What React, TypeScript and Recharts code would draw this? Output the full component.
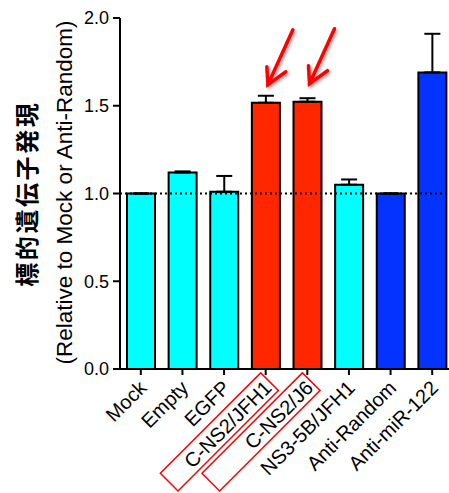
import React from "react";
import {
  BarChart,
  Bar,
  XAxis,
  YAxis,
  ReferenceLine,
  ErrorBar,
  Cell,
  LabelList,
} from "recharts";

const categories = [
  "Mock",
  "Empty",
  "EGFP",
  "C-NS2/JFH1",
  "C-NS2/J6",
  "NS3-5B/JFH1",
  "Anti-Random",
  "Anti-miR-122",
];
const means = [1.0, 1.12, 1.01, 1.517, 1.523, 1.05, 1.0, 1.69];
const upperErrors = [0, 0.006, 0.09, 0.04, 0.02, 0.03, 0, 0.22];
const groups = ["control", "control", "control", "chimera", "chimera", "control", "anti", "anti"];
const highlighted = ["C-NS2/JFH1", "C-NS2/J6"];
const yTicks = [0, 0.5, 1, 1.5, 2];
const yTitle = "標的遺伝子発現";
const ySubtitle = "(Relative to Mock or Anti-Random)";

const groupColors: Record<string, string> = {
  control: "#00FFFF",
  chimera: "#FF2600",
  anti: "#0433FF",
};

const FONT = "'Liberation Sans', Arial, Helvetica, sans-serif";
const CJK = "'Noto Sans CJK JP', 'Noto Sans CJK SC', sans-serif";

const data = categories.map((name, i) => ({
  name,
  value: means[i],
  err: [0, upperErrors[i]],
  group: groups[i],
}));

function CategoryTick({ x, y, payload }: any) {
  const boxed = highlighted.includes(payload.value);
  return (
    <g transform={`translate(${x},${y}) rotate(-45)`}>
      {boxed && (
        <rect x={-144} y={-5} width={142} height={25} fill="none" stroke="#ff0000" strokeWidth={1.5} />
      )}
      <text x={-5} y={15} textAnchor="end" fontSize={20} fontFamily={FONT} fill="#000">
        {payload.value}
      </text>
    </g>
  );
}

// red arrows pointing at the chimera bars
function ArrowMark(props: any) {
  const { x, y, width, value, index } = props;
  if (!highlighted.includes(value)) return null;
  const tipX = x + width / 2 + 2;
  const tipY = y - 18;
  const tailX = tipX + 25;
  const tailY = tipY - 55;
  const fid = `arrowShadow${index}`;
  return (
    <g>
      <defs>
        <filter id={fid} x="-50%" y="-50%" width="200%" height="200%">
          <feDropShadow dx={1.5} dy={2} stdDeviation={1.5} floodColor="#000" floodOpacity={0.35} />
        </filter>
      </defs>
      <g filter={`url(#${fid})`} stroke="#ff0000" strokeWidth={3.5} strokeLinecap="round" fill="none">
        <line x1={tailX} y1={tailY} x2={tipX} y2={tipY} />
        <polyline
          points={`${tipX - 1},${tipY - 18} ${tipX},${tipY} ${tipX + 18},${tipY - 13}`}
          strokeLinejoin="miter"
        />
      </g>
    </g>
  );
}

function YLabel(props: any) {
  const vb = props.viewBox || { x: 0, y: 18, width: 120, height: 351 };
  const cy = vb.y + vb.height / 2;
  const y1 = cy + 1.5;
  const y2 = cy - 1;
  const chars = Array.from(yTitle);
  const step = 26.6;
  return (
    <g>
      <g transform={`translate(36, ${y1}) rotate(-90)`}>
        {chars.map((ch, i) => (
          <text
            key={i}
            x={(i - (chars.length - 1) / 2) * step}
            y={0}
            textAnchor="middle"
            fontSize={24}
            fontWeight="bold"
            fontFamily={CJK}
            fill="#000"
          >
            {ch}
          </text>
        ))}
      </g>
      <text
        x={72}
        y={y2}
        transform={`rotate(-90, 72, ${y2})`}
        textAnchor="middle"
        fontSize={22.5}
        fontFamily={FONT}
        fill="#000"
      >
        {ySubtitle}
      </text>
    </g>
  );
}

export default function App() {
  return (
    <div
      style={{
        position: "absolute",
        left: 0,
        top: 0,
        width: 449,
        height: 493,
        overflow: "hidden",
        background: "#fff",
      }}
    >
      <BarChart
        width={453}
        height={493}
        data={data}
        margin={{ top: 18, right: 0, left: 0, bottom: 0 }}
      >
        <ReferenceLine y={1} stroke="#000" strokeWidth={2} strokeDasharray="2 3" />
        <XAxis
          dataKey="name"
          interval={0}
          height={124}
          tickSize={6}
          tickMargin={0}
          axisLine={{ stroke: "#000", strokeWidth: 2 }}
          tickLine={{ stroke: "#000", strokeWidth: 2 }}
          tick={<CategoryTick />}
        />
        <YAxis
          width={120}
          domain={[0, 2]}
          ticks={yTicks}
          tickSize={7}
          tickMargin={4}
          tickFormatter={(v: number) => v.toFixed(1)}
          axisLine={{ stroke: "#000", strokeWidth: 2 }}
          tickLine={{ stroke: "#000", strokeWidth: 2 }}
          tick={{ fill: "#000", fontSize: 18, fontFamily: FONT }}
          label={{ content: <YLabel /> }}
        />
        <Bar dataKey="value" barSize={28} stroke="#000" strokeWidth={2} isAnimationActive={false}>
          {data.map((d, i) => (
            <Cell key={`cell-${i}`} fill={groupColors[d.group]} />
          ))}
          <ErrorBar dataKey="err" direction="y" width={8} stroke="#000" strokeWidth={2} />
          <LabelList dataKey="name" content={<ArrowMark />} />
        </Bar>
      </BarChart>
    </div>
  );
}
